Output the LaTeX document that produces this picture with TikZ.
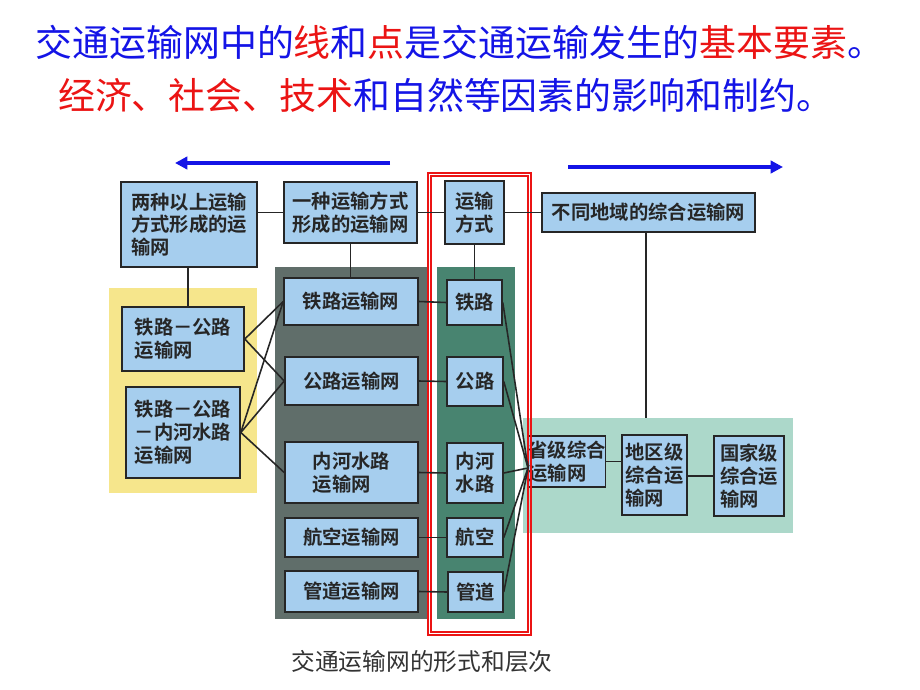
\documentclass[tikz,border=0pt]{standalone}
\usepackage{fontspec}
\setmainfont{Noto Sans CJK SC}
\newfontfamily\cjkb{Noto Sans CJK SC Bold}
\usetikzlibrary{arrows.meta}
\definecolor{boxblue}{RGB}{166,206,238}
\definecolor{ybg}{RGB}{246,230,140}
\definecolor{gbg}{RGB}{96,110,106}
\definecolor{grbg}{RGB}{72,132,112}
\definecolor{tbg}{RGB}{172,216,202}
\definecolor{tblue}{RGB}{20,20,230}
\definecolor{tred}{RGB}{235,20,20}
\tikzset{
  bx/.style={draw=black!85,line width=0.9pt,fill=boxblue,inner sep=0pt,font=\cjkb\fontsize{11}{13}\selectfont,align=left,text=black!85},
  ln/.style={line width=0.9pt,black!85},
  bar/.style={line width=2pt,tblue,-{Triangle[length=7pt,width=7pt]}}
}
\newcommand\mybox[6]{\node[bx,minimum width={(#4-#2)*0.02cm},minimum height={(#5-#3)*0.02cm}] (#1) at ({(#2+#4)/2},{(#3+#5)/2}) {#6};}
\begin{document}
\begin{tikzpicture}[x=0.02cm,y=-0.02cm]
\useasboundingbox (0,0) rectangle (920,690);
\node[font=\fontsize{21}{24}\selectfont,text=tblue] (t1) at (460,42) {交通运输网中的\textcolor{tred}{线}和\textcolor{tred}{点}是交通运输发生的\textcolor{tred}{基本要素}。};
\node[font=\fontsize{21}{24}\selectfont,text=tblue,anchor=west] (t2) at (52,95) {\textcolor{tred}{经济、社会、技术}和自然等因素的影响和制约。};
% arrows
\coordinate (la1) at (390,163); \coordinate (la2) at (175,163);
\coordinate (ra1) at (568,167); \coordinate (ra2) at (783,167);
\draw[bar] (la1) -- (la2);
\draw[bar] (ra1) -- (ra2);
% backgrounds
\fill[ybg] (109,288) rectangle (257,493);
\fill[gbg] (275,267) rectangle (428,619);
\fill[grbg] (437,267) rectangle (515,619);
\fill[tbg] (523,418) rectangle (793,533);
% boxes
\mybox{A}{121}{182}{257}{267}{两种以上运输\\方式形成的运\\输网}
\mybox{B}{284}{182}{417}{243}{一种运输方式\\形成的运输网}
\mybox{C}{445}{181}{504}{244}{运输\\方式}
\mybox{D}{542}{193}{755}{232}{不同地域的综合运输网}
\mybox{E1}{122}{307}{244}{371}{铁路－公路\\运输网}
\mybox{E2}{126}{387}{240}{478}{铁路－公路\\－内河水路\\运输网}
\mybox{F1}{284}{278}{418}{325}{铁路运输网}
\mybox{F2}{285}{357}{418}{405}{公路运输网}
\mybox{F3}{285}{442}{418}{503}{内河水路\\运输网}
\mybox{F4}{285}{518}{418}{557}{航空运输网}
\mybox{F5}{285}{571}{418}{612}{管道运输网}
\mybox{G1}{447}{280}{502}{325}{铁路}
\mybox{G2}{447}{357}{503}{406}{公路}
\mybox{G3}{447}{443}{503}{503}{内河\\水路}
\mybox{G4}{447}{518}{503}{557}{航空}
\mybox{G5}{448}{572}{503}{612}{管道}
\mybox{H1}{530}{436}{604}{487}{省级综合\\运输网}
\mybox{H2}{622}{435}{687}{515}{地区级\\综合运\\输网}
\mybox{H3}{714}{436}{784}{516}{国家级\\综合运\\输网}
% red frame
\draw[tred,line width=0.7pt] (428,173) rectangle (531,635);
\draw[tred,line width=0.7pt] (431,176) rectangle (528,632);
% connectors
\draw[ln] (A.east|-B) -- (B.west);
\draw[ln] (B.east) -- (C.west|-B);
\draw[ln] (C.east|-D) -- (D.west);
\draw[ln] (A.south-|188,0) -- (E1.north-|188,0);
\draw[ln] (B.south) -- (F1.north-|B.south);
\draw[ln] (C.south) -- (G1.north-|C.south);
\foreach \i in {1,...,5}{\draw[ln] (F\i.east) -- (G\i.west);}
\coordinate (cv) at (528,468);
\foreach \i in {1,...,5}{\draw[ln] (G\i.east) -- (cv);}
\draw[ln] (cv) -- (H1.west);
\draw[ln] (H1.east) -- (H2.west|-H1.east);
\draw[ln] (H2.east|-H3.west) -- (H3.west);
\coordinate (dt) at (646,418);
\draw[ln] (D.south-|dt) -- (dt);
\draw[ln] (E1.east) -- (F1.west); \draw[ln] (E1.east) -- (F2.west);
\draw[ln] (E2.east) -- (F1.west); \draw[ln] (E2.east) -- (F2.west); \draw[ln] (E2.east) -- (F3.west);
\node[font=\fontsize{13.5}{16}\selectfont,text=black!80] (cap) at (422,661) {交通运输网的形式和层次};
\end{tikzpicture}
\end{document}
